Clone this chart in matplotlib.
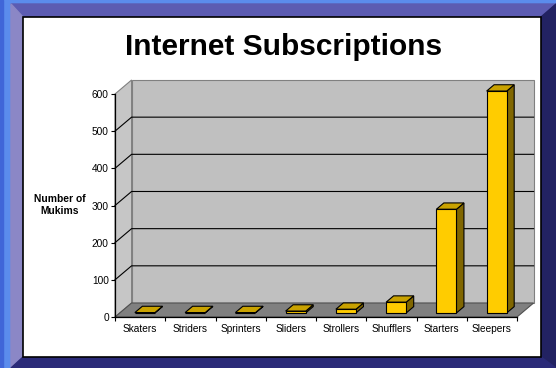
import matplotlib.pyplot as plt
from matplotlib.patches import Polygon, Rectangle

plt.rcParams['font.family'] = ['Liberation Sans', 'DejaVu Sans']

# Data ==========================
categories = ['Skaters', 'Striders', 'Sprinters', 'Sliders', 'Strollers',
              'Shufflers', 'Starters', 'Sleepers']
mukims = [1, 1, 1, 5, 10, 29, 279, 597]
y_ticks = [0, 100, 200, 300, 400, 500, 600]

# 3D look: depth vector in data units, bar width, bar depth range (0=front, 1=back)
DX, DY = 0.33, 37.7
BAR_W = 0.4
D0, D1 = 0.29, 0.74
YMAX = 600

fig = plt.figure(figsize=(5.56, 3.68), dpi=100)

# Frame =========================
bg = fig.add_axes([0, 0, 1, 1], zorder=0)
bg.set_xlim(0, 556)
bg.set_ylim(368, 0)
bg.axis('off')
bg.add_patch(Rectangle((0, 0), 556, 368, color='#5b8cec'))
bg.add_patch(Rectangle((0, 0), 3, 368, color='#4066d8'))
bg.add_patch(Polygon([(11, 4), (556, 4), (541, 17), (23, 17)], color='#5c5cb2'))
bg.add_patch(Polygon([(11, 4), (23, 17), (23, 357), (11, 368)], color='#8b87c6'))
bg.add_patch(Polygon([(556, 4), (556, 368), (541, 357), (541, 17)], color='#222262'))
bg.add_patch(Polygon([(11, 368), (23, 357), (541, 357), (556, 368)], color='#2a2a78'))
bg.add_patch(Rectangle((23, 17), 518, 340, facecolor='white', edgecolor='black', lw=1.2))

fig.text(284 / 556, 1 - 55 / 368, 'Internet Subscriptions', ha='center', va='baseline',
         fontsize=21.5, fontweight='bold')
fig.text(60 / 556, 1 - 205 / 368, 'Number of\nMukims', ha='center', va='center',
         fontsize=7.4, fontweight='bold', linespacing=1.35)

# Chart =========================
ax = fig.add_axes([115 / 556, 51 / 368, 402 / 556, 223 / 368], zorder=1)
ax.patch.set_visible(False)
n = len(categories)
x_lo, x_hi = -0.5, n - 0.5
ax.set_xlim(x_lo, x_hi)
ax.set_ylim(0, YMAX)

wall_kw = dict(clip_on=False, lw=0.8, edgecolor='#808080')
# back wall
ax.add_patch(Polygon([(x_lo + DX, DY), (x_hi + DX, DY), (x_hi + DX, YMAX + DY),
                      (x_lo + DX, YMAX + DY)], facecolor='#c0c0c0', zorder=1, **wall_kw))
# side wall
ax.add_patch(Polygon([(x_lo, 0), (x_lo + DX, DY), (x_lo + DX, YMAX + DY), (x_lo, YMAX)],
                     facecolor='#c6c6c6', zorder=1, **wall_kw))
# floor
ax.add_patch(Polygon([(x_lo, 0), (x_hi, 0), (x_hi + DX, DY), (x_lo + DX, DY)],
                     facecolor='#808080', zorder=1, clip_on=False, lw=0.8, edgecolor='#505050'))

# gridlines on back and side wall
for v in y_ticks[1:-1]:
    ax.plot([x_lo, x_lo + DX, x_hi + DX], [v, v + DY, v + DY], color='black', lw=0.8,
            zorder=2, clip_on=False)

# bars
for i, v in enumerate(mukims):
    x0 = i - BAR_W / 2
    x1 = i + BAR_W / 2
    side = [(x1 + D0 * DX, D0 * DY), (x1 + D1 * DX, D1 * DY),
            (x1 + D1 * DX, v + D1 * DY), (x1 + D0 * DX, v + D0 * DY)]
    top = [(x0 + D0 * DX, v + D0 * DY), (x1 + D0 * DX, v + D0 * DY),
           (x1 + D1 * DX, v + D1 * DY), (x0 + D1 * DX, v + D1 * DY)]
    ax.add_patch(Polygon(side, facecolor='#806600', edgecolor='black', lw=0.8,
                         zorder=3, clip_on=False))
    ax.add_patch(Polygon(top, facecolor='#c9a200', edgecolor='black', lw=0.8,
                         zorder=3, clip_on=False))
    ax.add_patch(Rectangle((x0 + D0 * DX, D0 * DY), BAR_W, v, facecolor='#ffcc00',
                           edgecolor='black', lw=0.8, zorder=4, clip_on=False))

# axes
for s in ['top', 'right']:
    ax.spines[s].set_visible(False)
for s in ['left', 'bottom']:
    ax.spines[s].set_color('black')
    ax.spines[s].set_linewidth(0.9)
    ax.spines[s].set_zorder(5)

ax.set_yticks(y_ticks)
ax.tick_params(axis='y', direction='out', length=3, width=0.8, pad=1.5, labelsize=7.3)
ax.set_xticks(range(n))
ax.set_xticklabels(categories)
ax.set_xticks([k - 0.5 for k in range(n + 1)], minor=True)
ax.tick_params(axis='x', which='major', length=0, pad=5, labelsize=7.3)
ax.tick_params(axis='x', which='minor', direction='out', length=3, width=0.8)

fig.savefig('out.png', dpi=100)
